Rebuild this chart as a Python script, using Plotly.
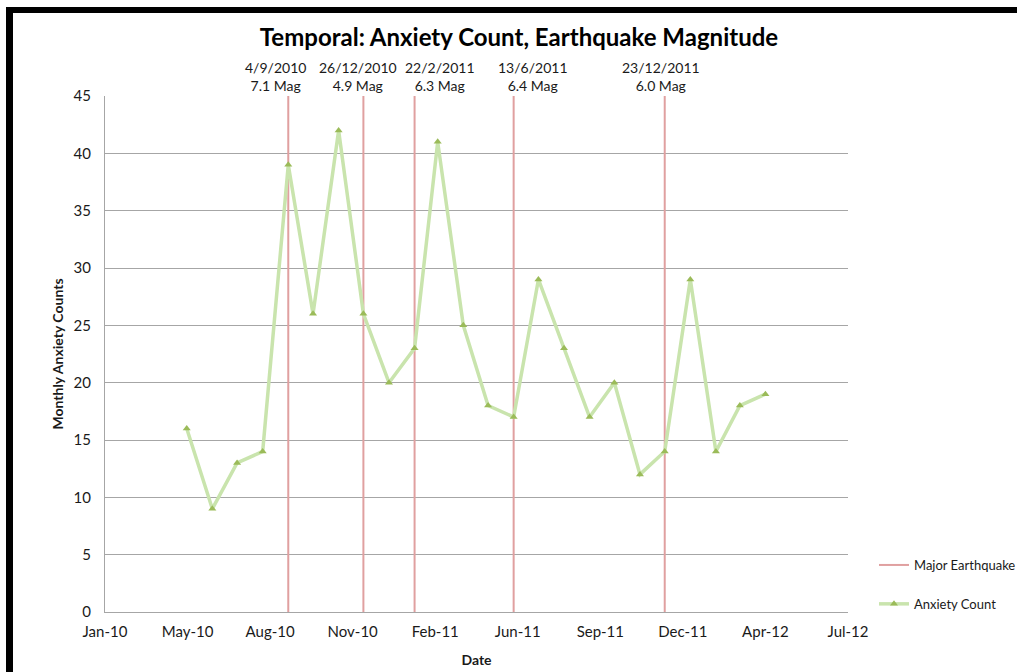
import plotly.graph_objects as go

# ── Data ──────────────────────────────────────────────────────────────────────
months = [
    "2010-05-01", "2010-06-01", "2010-07-01", "2010-08-01", "2010-09-01",
    "2010-10-01", "2010-11-01", "2010-12-01", "2011-01-01", "2011-02-01",
    "2011-03-01", "2011-04-01", "2011-05-01", "2011-06-01", "2011-07-01",
    "2011-08-01", "2011-09-01", "2011-10-01", "2011-11-01", "2011-12-01",
    "2012-01-01", "2012-02-01", "2012-03-01", "2012-04-01",
]
anxiety_counts = [16, 9, 13, 14, 39, 26, 42, 26, 20, 23, 41, 25,
                  18, 17, 29, 23, 17, 20, 12, 14, 29, 14, 18, 19]

quake_months = ["2010-09-01", "2010-12-01", "2011-02-01", "2011-06-01", "2011-12-01"]
quake_dates = ["4/9/2010", "26/12/2010", "22/2/2011", "13/6/2011", "23/12/2011"]
quake_mags = ["7.1 Mag", "4.9 Mag", "6.3 Mag", "6.4 Mag", "6.0 Mag"]

x_tickvals = ["2010-01-22", "2010-05-02", "2010-08-10", "2010-11-18", "2011-02-26",
              "2011-06-06", "2011-09-14", "2011-12-23", "2012-04-01", "2012-07-10"]
x_ticktext = ["Jan-10", "May-10", "Aug-10", "Nov-10", "Feb-11",
              "Jun-11", "Sep-11", "Dec-11", "Apr-12", "Jul-12"]
y_max = 45

# ── Style ─────────────────────────────────────────────────────────────────────
W, H = 1017, 672
_FONT = "Lato, 'Open Sans', sans-serif"
_TEXT = "#1a1a1a"
_GRID = "#a6a6a6"
_QUAKE = "#e0a0a0"
_LINE = "#c9e4ad"
_MARK = "#9bbb59"
PLOT_L, PLOT_R, PLOT_T, PLOT_B = 105, 848, 96, 612
label_shift = [-13, -5, 25, 19, -4]

fig = go.Figure()

# vertical earthquake lines as one trace (gaps between)
qx, qy = [], []
for m in quake_months:
    qx += [m, m, None]
    qy += [0, y_max, None]
fig.add_trace(go.Scatter(
    x=qx, y=qy, mode="lines", name="Major Earthquake",
    line=dict(color=_QUAKE, width=2), legendgroup="q",
))

fig.add_trace(go.Scatter(
    x=months, y=anxiety_counts, mode="lines+markers", name="Anxiety Count",
    line=dict(color=_LINE, width=3.5),
    marker=dict(symbol="triangle-up", size=7, color=_MARK),
    legendgroup="a",
))

for m, d, mag, sh in zip(quake_months, quake_dates, quake_mags, label_shift):
    fig.add_annotation(
        x=m, y=y_max, xref="x", yref="y", yanchor="bottom",
        text=f"{d}<br>{mag}", showarrow=False, xshift=sh, yshift=0,
        font=dict(family=_FONT, size=14, color=_TEXT),
    )

# black frame strokes (top and left)
fig.add_shape(type="rect", xref="paper", yref="paper", layer="above",
              x0=6 / W, x1=13 / W, y0=0, y1=1 - 7 / H,
              fillcolor="black", line_width=0)
fig.add_shape(type="rect", xref="paper", yref="paper", layer="above",
              x0=6 / W, x1=1, y0=1 - 13 / H, y1=1 - 7 / H,
              fillcolor="black", line_width=0)

fig.update_layout(
    width=W, height=H,
    margin=dict(l=0, r=0, t=0, b=0, autoexpand=False),
    paper_bgcolor="white", plot_bgcolor="white",
    font=dict(family=_FONT, color=_TEXT, size=14),
    title=dict(text="<b>Temporal: Anxiety Count, Earthquake Magnitude</b>",
               x=519 / W, xanchor="center", y=1 - 38 / H, yanchor="middle",
               font=dict(family=_FONT, size=24, color="black")),
    xaxis=dict(
        domain=[PLOT_L / W, PLOT_R / W], type="date", automargin=False,
        range=[x_tickvals[0], x_tickvals[-1]],
        tickvals=x_tickvals, ticktext=x_ticktext,
        showgrid=False, showline=True, linecolor=_GRID, linewidth=1,
        ticks="", tickfont=dict(size=15), ticklabelstandoff=6,
        title=dict(text="<b>Date</b>", font=dict(size=14), standoff=16),
    ),
    yaxis=dict(
        domain=[1 - PLOT_B / H, 1 - PLOT_T / H], automargin=False,
        range=[0, y_max], dtick=5,
        showgrid=True, gridcolor=_GRID, gridwidth=1,
        showline=True, linecolor=_GRID, linewidth=1, zeroline=False,
        ticks="", tickfont=dict(size=15), ticklabelstandoff=10,
        title=dict(text="<b>Monthly Anxiety Counts</b>", font=dict(size=14), standoff=6),
    ),
    showlegend=True,
    legend=dict(x=874 / W, xanchor="left", y=1 - 550 / H, yanchor="top",
                tracegroupgap=19, font=dict(size=13), bgcolor="rgba(0,0,0,0)"),
)

fig.write_html("out.html", config={"displayModeBar": False},
               post_script="document.body.style.margin='0';")
